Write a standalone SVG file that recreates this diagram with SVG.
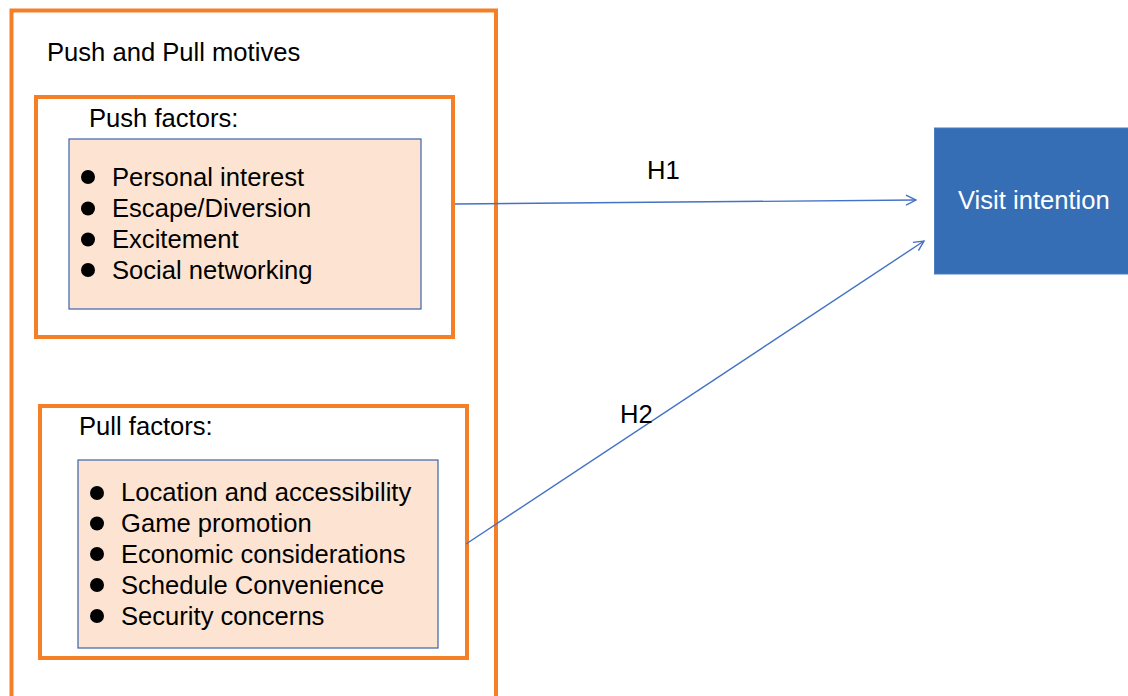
<svg xmlns="http://www.w3.org/2000/svg" width="1128" height="696" viewBox="0 0 1128 696">
  <style>
    .txt { font-family: "Liberation Sans", Arial, sans-serif; font-size: 25.6px; fill: #000; }
    .white { fill: #fff; }
    .orange { fill: none; stroke: #F47F26; stroke-width: 4; }
    .inner { fill: #FDE4D2; stroke: #3A63AA; stroke-width: 1.2; }
    .conn { fill: none; stroke: #4472C4; stroke-width: 1.4; }
  </style>
  <defs>
    <marker id="open" viewBox="0 0 12 12" refX="11" refY="6" markerWidth="12" markerHeight="12" markerUnits="userSpaceOnUse" orient="auto">
      <path d="M1,1 L11,6 L1,11" fill="none" stroke="#4472C4" stroke-width="1.4"/>
    </marker>
  </defs>
  <rect width="1128" height="696" fill="#fff"/>

  <g id="motives">
    <rect class="orange" x="11.5" y="10.5" width="484.5" height="720"/>
    <text class="txt" x="47" y="61">Push and Pull motives</text>
  </g>

  <g id="push">
    <rect class="orange" x="36" y="97" width="417" height="240"/>
    <text class="txt" x="89" y="127">Push factors:</text>
    <rect class="inner" x="69" y="139" width="352" height="170"/>
    <g fill="#000">
      <circle cx="88" cy="177" r="7"/>
      <circle cx="88" cy="208.5" r="7"/>
      <circle cx="88" cy="239.5" r="7"/>
      <circle cx="88" cy="270" r="7"/>
    </g>
    <text class="txt" x="112" y="186">Personal interest</text>
    <text class="txt" x="112" y="217">Escape/Diversion</text>
    <text class="txt" x="112" y="248">Excitement</text>
    <text class="txt" x="112" y="279">Social networking</text>
  </g>

  <g id="pull">
    <rect class="orange" x="40" y="406" width="427" height="252"/>
    <text class="txt" x="79" y="435">Pull factors:</text>
    <rect class="inner" x="78" y="460" width="360" height="188"/>
    <g fill="#000">
      <circle cx="97" cy="493" r="7"/>
      <circle cx="97" cy="523.5" r="7"/>
      <circle cx="97" cy="554" r="7"/>
      <circle cx="97" cy="585" r="7"/>
      <circle cx="97" cy="616" r="7"/>
    </g>
    <text class="txt" x="121" y="501">Location and accessibility</text>
    <text class="txt" x="121" y="532">Game promotion</text>
    <text class="txt" x="121" y="562.5">Economic considerations</text>
    <text class="txt" x="121" y="593.5">Schedule Convenience</text>
    <text class="txt" x="121" y="624.5">Security concerns</text>
  </g>

  <g id="visit">
    <rect x="934.5" y="128" width="200" height="146" fill="#356EB4" stroke="#4A7CC0" stroke-width="1"/>
    <text class="txt white" x="958" y="209">Visit intention</text>
  </g>

  <g id="connectors">
    <line class="conn" x1="455" y1="204" x2="916" y2="200" marker-end="url(#open)"/>
    <line class="conn" x1="466" y1="544" x2="924" y2="241" marker-end="url(#open)"/>
    <text class="txt" x="647" y="179">H1</text>
    <text class="txt" x="620" y="423">H2</text>
  </g>
</svg>
